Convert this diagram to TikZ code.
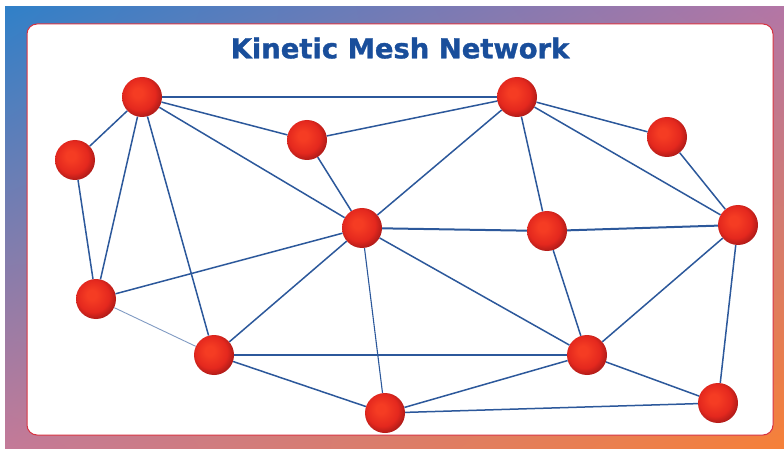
\documentclass[tikz,border=0pt]{standalone}
\usepackage{fontspec}
\usetikzlibrary{shadings}
\newfontfamily\titlefont[FakeBold=1.2]{DejaVu Sans Bold}

\definecolor{linkblue}{RGB}{44,88,155}
\definecolor{titleblue}{RGB}{25,78,155}
\definecolor{cornerA}{RGB}{48,128,200}
\definecolor{cornerB}{RGB}{180,118,165}
\definecolor{cornerC}{RGB}{196,122,152}
\definecolor{cornerD}{RGB}{246,128,56}
\definecolor{panelred}{RGB}{215,50,65}
\definecolor{spherehi}{RGB}{245,60,35}
\definecolor{spheremid}{RGB}{228,40,30}
\definecolor{spherelo}{RGB}{155,22,22}

\pgfdeclareradialshading{redsphere}{\pgfpoint{-6bp}{6bp}}{color(0bp)=(spherehi);
  color(6bp)=(spherehi); color(20bp)=(spheremid); color(31bp)=(spherelo); color(50bp)=(spherelo)}

\begin{document}
\begin{tikzpicture}[x=1pt, y=-1pt,
    sphere/.style={circle, minimum size=40pt, inner sep=0pt, shading=redsphere},
    link/.style={line width=1.5pt, linkblue},
    mainlink/.style={line width=2pt, linkblue},
    weaklink/.style={line width=0.9pt, linkblue!60}]
    \useasboundingbox (0,0) rectangle (784,449);

    % backdrop
    \shade[upper left=cornerA, upper right=cornerB, lower left=cornerC, lower right=cornerD]
        (5,7) rectangle (784,449);
    \draw[line width=1pt, panelred, fill=white, rounded corners=10pt] (27,24) rectangle (773,435);

    % title
    \node[font=\titlefont\fontsize{27.4}{30}\selectfont, text=titleblue, anchor=base]
        (title) at (400,58.3) {Kinetic Mesh Network};

    % nodes
    \foreach \name/\x/\y in {a/142/97, b/75/160, c/307/140, d/517/97, e/667/137,
                              f/362/228, g/547/231, h/738/225, i/96/299, j/214/355,
                              k/587/355, l/385/413, m/718/403} {
        \node[sphere] (\name) at (\x,\y) {};
    }

    % links
    \foreach \s/\t in {a/b, a/i, a/j, a/c, a/f, b/i, c/d, c/f, d/f, d/g, d/h, d/e,
                       e/h, f/i, f/j, f/k, j/l, g/k, h/k, h/m, k/l, k/m, l/m} {
        \draw[link] (\s) -- (\t);
    }
    \foreach \s/\t in {a/d, f/g, g/h, j/k} {
        \draw[mainlink] (\s) -- (\t);
    }
    \draw[link, line width=1.1pt] (f) -- (l);
    \draw[weaklink] (i) -- (j);
\end{tikzpicture}
\end{document}
